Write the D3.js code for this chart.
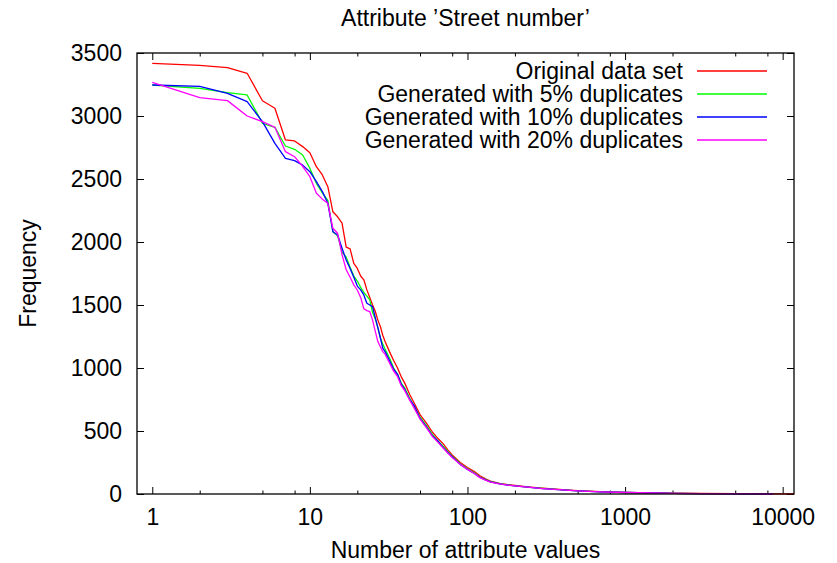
<!DOCTYPE html>
<html>
<head>
<meta charset="utf-8">
<script src="https://cdn.jsdelivr.net/npm/d3@7"></script>
<style>
  body { margin: 0; background: #fff; }
  svg { display: block; font-family: "Liberation Sans", Arial, sans-serif; }
  .axis text { font-size: 23px; fill: #000; font-family: "Liberation Sans", Arial, sans-serif; }
  .axis line { stroke: #000; stroke-width: 1; }
  .label { font-size: 23px; fill: #000; }
</style>
</head>
<body>
<svg id="chart" width="837" height="563" viewBox="0 0 837 563"></svg>
<script>
// values (x = number of attribute values, y = frequency)
const series_names = [
  "Original data set",
  "Generated with 5% duplicates",
  "Generated with 10% duplicates",
  "Generated with 20% duplicates"
];
const series_colors = ["#ff0000", "#00ff00", "#0000ff", "#ff00ff"];

const x_original = [1,2,3,4,5,6,7,8,9,10,11,12,13,14,15,16,17,18,19,20,21,22,23,24,25,26,27,28,29,30,
  32,34,36,38,40,43,46,50,55,60,65,70,75,80,90,100,110,120,130,140,160,180,200,250,300,400,500,700,
  1000,1500,2000,3000,5000,8000,11800];
const y_original = [3418,3402,3384,3339,3121,3061,2810,2802,2757,2709,2598,2532,2439,2240,2200,2150,1960,1945,1830,1790,
  1730,1700,1620,1560,1500,1450,1380,1330,1260,1210,
  1130,1060,1000,930,880,790,720,630,560,490,440,400,350,310,250,210,180,145,120,103,85,75,68,55,46,34,27,19,
  13,9,6,4,2,1,1];

const x_dup5 = [1,2,3,4,5,6,7,8,9,10,11,12,13,14,15,16,17,18,19,20,21,22,23,24,25,26,27,28,29,30,
  32,34,36,38,40,43,46,50,55,60,65,70,75,80,90,100,110,120,130,140,160,180,200,250,300,400,500,700,
  1000,1500,2000,3000,5000,7000];
const y_dup5 = [3246,3220,3185,3167,2942,2910,2762,2736,2690,2585,2466,2390,2330,2082,2050,1920,1880,1800,1730,1690,
  1640,1600,1570,1540,1440,1390,1320,1240,1190,1150,
  1080,1000,950,880,840,760,690,610,540,470,420,380,335,300,240,200,170,135,115,98,82,72,65,53,44,32,25,17,
  12,8,5,3,2,1];

const x_dup10 = [1,2,3,4,5,6,7,8,9,10,11,12,13,14,15,16,17,18,19,20,21,22,23,24,25,26,27,28,29,30,
  32,34,36,38,40,43,46,50,55,60,65,70,75,80,90,100,110,120,130,140,160,180,200,250,300,400,500,700,
  1000,1500,2000,3000,5000,8700];
const y_dup10 = [3246,3235,3180,3114,2955,2783,2664,2646,2610,2558,2479,2400,2307,2082,2056,1950,1857,1790,1720,1650,
  1620,1580,1514,1500,1487,1400,1320,1240,1157,1130,
  1060,990,950,870,830,750,700,600,530,460,420,370,330,295,235,195,165,132,112,96,80,71,64,52,43,32,25,17,
  12,8,5,3,2,1];

const x_dup20 = [1,2,3,4,5,6,7,8,9,10,11,12,13,14,15,16,17,18,19,20,21,22,23,24,25,26,27,28,29,30,
  32,34,36,38,40,43,46,50,55,60,65,70,75,80,90,100,110,120,130,140,160,180,200,250,300,400,500,700,
  1000,1500,2000,3000,5000,8700];
const y_dup20 = [3267,3146,3122,3000,2955,2910,2717,2677,2600,2518,2387,2340,2307,2109,2069,1900,1780,1720,1660,1619,
  1560,1470,1455,1447,1380,1290,1210,1169,1130,1110,
  1040,975,931,860,820,745,680,595,525,455,410,365,325,290,235,195,165,130,110,95,80,70,64,52,43,32,25,17,
  12,8,5,3,2,1];

const x_major_ticks = [1, 10, 100, 1000, 10000];
const x_minor_ticks = [2,5,8,20,50,80,200,500,800,2000,5000,8000];
const y_ticks = [0, 500, 1000, 1500, 2000, 2500, 3000, 3500];

const svg = d3.select("#chart");
const margin = { left: 137, top: 53, right: 794, bottom: 494 };
const plot_w = margin.right - margin.left;
const plot_h = margin.bottom - margin.top;

const x = d3.scaleLog().domain([0.8, 11800]).range([0, plot_w]);
const y = d3.scaleLinear().domain([0, 3500]).range([plot_h, 0]);

const g = svg.append("g").attr("transform", `translate(${margin.left},${margin.top})`);

// ticks point inward on all four sides, like gnuplot
g.append("g").attr("class", "axis")
  .attr("transform", `translate(0,${plot_h})`)
  .call(d3.axisBottom(x).tickValues(x_major_ticks).tickSize(-7).tickPadding(15).tickFormat(d3.format("d")))
  .call(a => a.select(".domain").remove());
g.append("g").attr("class", "axis")
  .attr("transform", `translate(0,${plot_h})`)
  .call(d3.axisBottom(x).tickValues(x_minor_ticks).tickSize(-3.5).tickFormat(""))
  .call(a => a.select(".domain").remove());
g.append("g").attr("class", "axis")
  .call(d3.axisTop(x).tickValues(x_major_ticks).tickSize(-7).tickFormat(""))
  .call(a => a.select(".domain").remove());
g.append("g").attr("class", "axis")
  .call(d3.axisTop(x).tickValues(x_minor_ticks).tickSize(-3.5).tickFormat(""))
  .call(a => a.select(".domain").remove());
g.append("g").attr("class", "axis")
  .call(d3.axisLeft(y).tickValues(y_ticks).tickSize(-7).tickPadding(15).tickFormat(d3.format("d")))
  .call(a => a.select(".domain").remove());
g.append("g").attr("class", "axis")
  .attr("transform", `translate(${plot_w},0)`)
  .call(d3.axisRight(y).tickValues(y_ticks).tickSize(-7).tickFormat(""))
  .call(a => a.select(".domain").remove());

const all_series = [
  { name: series_names[0], color: series_colors[0], xs: x_original, ys: y_original },
  { name: series_names[1], color: series_colors[1], xs: x_dup5, ys: y_dup5 },
  { name: series_names[2], color: series_colors[2], xs: x_dup10, ys: y_dup10 },
  { name: series_names[3], color: series_colors[3], xs: x_dup20, ys: y_dup20 }
];

const line = d3.line().x(d => x(d[0])).y(d => y(d[1]));

g.append("g")
  .selectAll("path")
  .data(all_series)
  .enter()
  .append("path")
  .attr("fill", "none")
  .attr("stroke", d => d.color)
  .attr("stroke-width", 1.3)
  .attr("stroke-linejoin", "round")
  .attr("d", d => line(d.xs.map((v, i) => [v, d.ys[i]])));

// frame
g.append("rect")
  .attr("x", 0).attr("y", 0)
  .attr("width", plot_w).attr("height", plot_h)
  .attr("fill", "none").attr("stroke", "#000").attr("stroke-width", 1.3);

// legend, top right inside the box
const legend = svg.append("g").selectAll("g")
  .data(all_series)
  .enter()
  .append("g")
  .attr("transform", (d, i) => `translate(0,${71 + i * 23})`);
legend.append("text")
  .attr("class", "label")
  .attr("x", 683).attr("dy", "0.35em")
  .attr("text-anchor", "end")
  .text(d => d.name);
legend.append("line")
  .attr("x1", 697).attr("x2", 767)
  .attr("stroke", d => d.color).attr("stroke-width", 1.3);

svg.append("text").attr("class", "label")
  .attr("x", margin.left + plot_w / 2).attr("y", 26)
  .attr("text-anchor", "middle")
  .text("Attribute \u2019Street number\u2019");

svg.append("text").attr("class", "label")
  .attr("x", margin.left + plot_w / 2).attr("y", 558)
  .attr("text-anchor", "middle")
  .text("Number of attribute values");

svg.append("text").attr("class", "label")
  .attr("transform", `translate(36,${margin.top + plot_h / 2}) rotate(-90)`)
  .attr("text-anchor", "middle")
  .text("Frequency");
</script>
</body>
</html>
